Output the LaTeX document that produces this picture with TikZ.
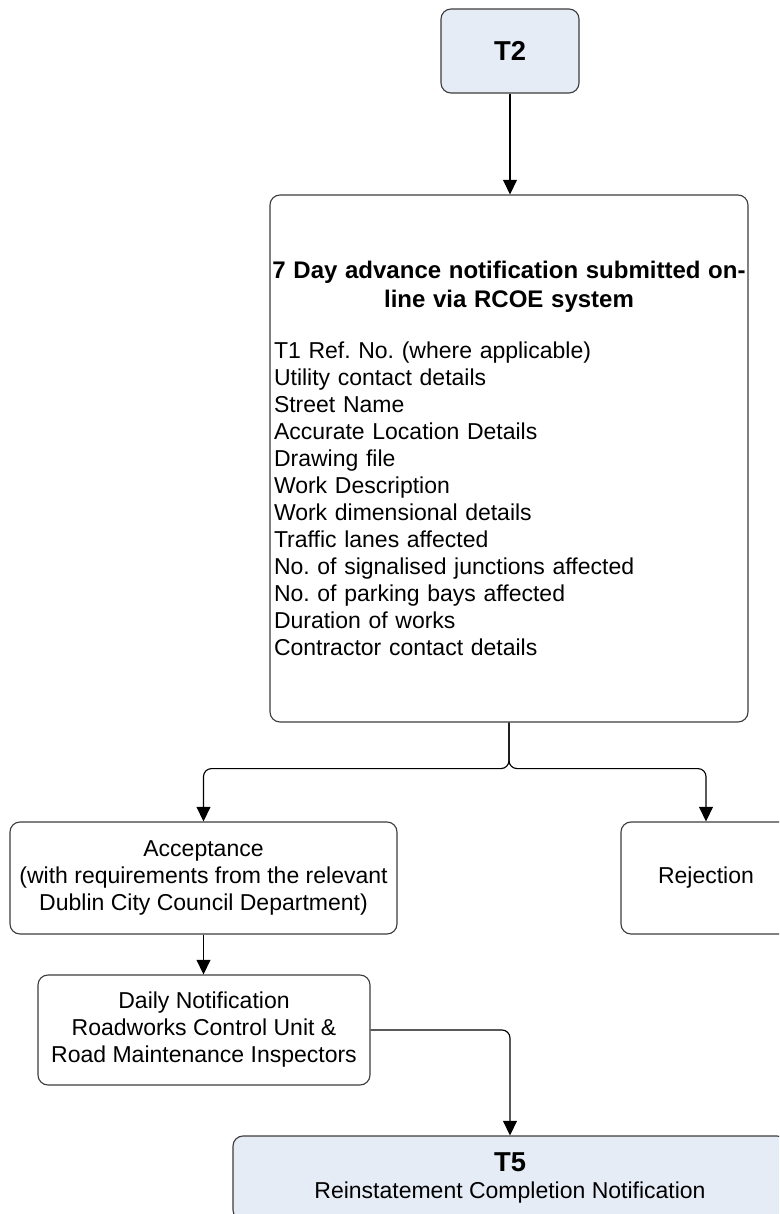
\documentclass[tikz,border=0pt]{standalone}
\usepackage{fontspec}
\setmainfont{Liberation Sans}
\usetikzlibrary{arrows.meta}
\definecolor{tfill}{RGB}{230,236,246}
\definecolor{boxline}{RGB}{60,60,60}
\frenchspacing
\newcommand\rgfont{\fontsize{17.25}{20.25}\selectfont}
\newcommand\ttlfont{\fontsize{18}{21.75}\selectfont\bfseries}
\newcommand\tlabfont{\fontsize{20.5}{23}\selectfont\bfseries}
\begin{document}
\begin{tikzpicture}[x=0.75pt,y=-0.75pt,
  box/.style={draw=boxline, line width=0.85pt, rounded corners=7.5pt, inner sep=0pt, align=center, font=\rgfont},
  tbox/.style={box, fill=tfill},
  conn/.style={draw=black, line width=0.85pt, rounded corners=6pt, -{Triangle[length=11pt,width=10.5pt]}}]
\useasboundingbox (0,0) rectangle (779,1214);
\clip (0,0) rectangle (779,1214);

\node[tbox, minimum width={138*0.75pt}, minimum height={84*0.75pt}, font=\tlabfont] (t2) at (510,51) {T2};

\node[draw=boxline, line width=0.85pt, rounded corners=7.5pt, inner sep=0pt,
      minimum width={478*0.75pt}, minimum height={527*0.75pt}, text width={470*0.75pt}, font=\rgfont]
  (main) at (509,458.5)
  {\parindent=0pt\parskip=0pt
   {\ttlfont\makebox[\linewidth]{7 Day advance notification submitted on-}\par
    \makebox[\linewidth]{line via RCOE system}\par}
   \vspace{18pt}\raggedright
   T1 Ref. No. (where applicable)\par
   Utility contact details\par
   Street Name\par
   Accurate Location Details\par
   Drawing file\par
   Work Description\par
   Work dimensional details\par
   Traffic lanes affected\par
   No. of signalised junctions affected\par
   No. of parking bays affected\par
   Duration of works\par
   Contractor contact details\par};

\node[box, minimum width={387*0.75pt}, minimum height={112*0.75pt}] (acc) at (203.5,878)
  {Acceptance\\(with requirements from the relevant\\Dublin City Council Department)};
\node[box, minimum width={170*0.75pt}, minimum height={112*0.75pt}] (rej) at (706,878) {Rejection};
\node[box, minimum width={332*0.75pt}, minimum height={110*0.75pt}] (daily) at (204,1030)
  {Daily Notification\\Roadworks Control Unit \&\\Road Maintenance Inspectors};
\node[tbox, minimum width={554*0.75pt}, minimum height={84*0.75pt}] (t5) at (510,1178)
  {{\tlabfont T5}\\Reinstatement Completion Notification};

\draw[conn] (t2.south) -- (t2.south |- main.north);
\draw[conn] (main.south) -- ++(0,46) -| (acc.north);
\draw[conn] (main.south) -- ++(0,46) -| (rej.north);
\draw[conn] (acc.south) -- (acc.south |- daily.north);
\draw[conn] (daily.east) -| (t5.north);
\end{tikzpicture}
\end{document}
